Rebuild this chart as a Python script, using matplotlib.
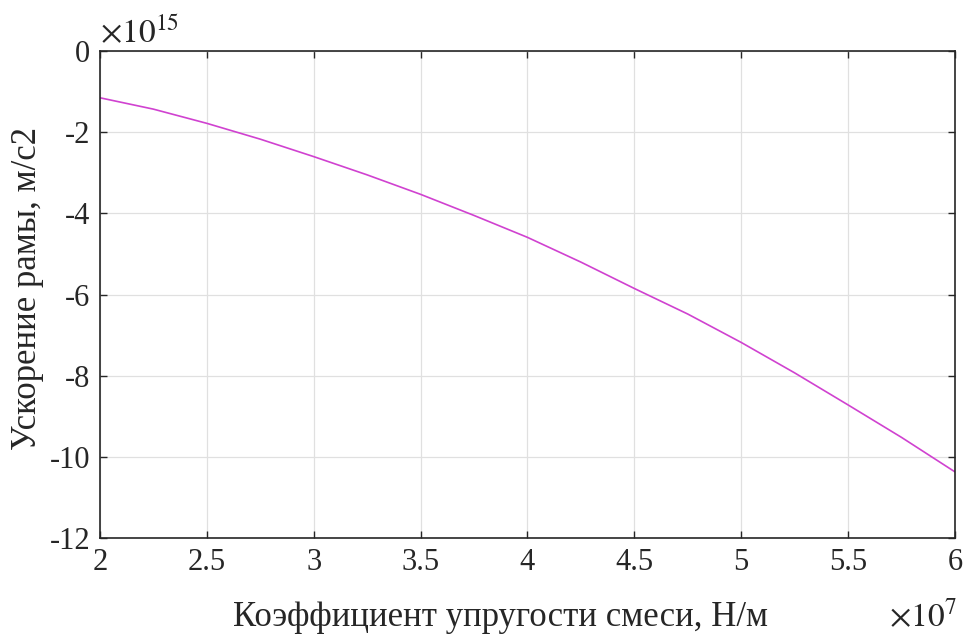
import numpy as np
import matplotlib
matplotlib.use("Agg")
import matplotlib.pyplot as plt

# ── Data ──────────────────────────────────────────────────────
# stiffness, x 1e7 N/m
stiffness = [2.0, 2.25, 2.5, 2.75, 3.0, 3.25, 3.5, 3.75, 4.0,
             4.25, 4.5, 4.75, 5.0, 5.25, 5.5, 5.75, 6.0]
# frame acceleration, x 1e15 m/s2
accel = [-1.15, -1.43, -1.78, -2.17, -2.60, -3.05, -3.53, -4.05, -4.59,
         -5.20, -5.85, -6.48, -7.18, -7.93, -8.72, -9.52, -10.37]

x_ticks = [2, 2.5, 3, 3.5, 4, 4.5, 5, 5.5, 6]
x_ticklabels = ["2", "2.5", "3", "3.5", "4", "4.5", "5", "5.5", "6"]
y_ticks = [0, -2, -4, -6, -8, -10, -12]
y_ticklabels = ["0", "-2", "-4", "-6", "-8", "-10", "-12"]

LINE = "#d042d0"
AXIS = "#262626"

plt.rcParams.update({
    "font.family": ["Liberation Serif", "DejaVu Serif"],
    "font.size": 22,
    "axes.unicode_minus": False,
})

fig = plt.figure(figsize=(9.66, 6.39), dpi=100)
ax = fig.add_axes([0.1035, 0.158, 0.8851, 0.762])

ax.plot(stiffness, accel, color=LINE, lw=1.2)

ax.set_xlim(2, 6)
ax.set_ylim(-12, 0)
ax.set_xticks(x_ticks)
ax.set_xticklabels(x_ticklabels)
ax.set_yticks(y_ticks)
ax.set_yticklabels(y_ticklabels)

ax.grid(True, color="#e0e0e0", lw=0.9)
ax.set_axisbelow(True)
ax.tick_params(direction="in", top=True, right=True, length=5, width=1.0,
               color=AXIS, labelcolor=AXIS, labelsize=22, pad=7)
for s in ax.spines.values():
    s.set_color(AXIS)
    s.set_linewidth(1.2)

# axis labels and exponent markers
fig.text(0.518, 0.033, "Коэффициент упругости смеси, Н/м", ha="center",
         va="center", fontsize=25, color=AXIS)
fig.text(0.028, 0.548, "Ускорение рамы, м/с2", ha="center", va="center",
         rotation=90, fontsize=25, color=AXIS)
fig.text(0.104, 0.933, r"$\times10^{15}$", ha="left", va="baseline",
         fontsize=24, color=AXIS, math_fontfamily="stix")
fig.text(0.990, 0.019, r"$\times10^{7}$", ha="right", va="baseline",
         fontsize=24, color=AXIS, math_fontfamily="stix")

fig.savefig("out.png", dpi=100, facecolor="white")
